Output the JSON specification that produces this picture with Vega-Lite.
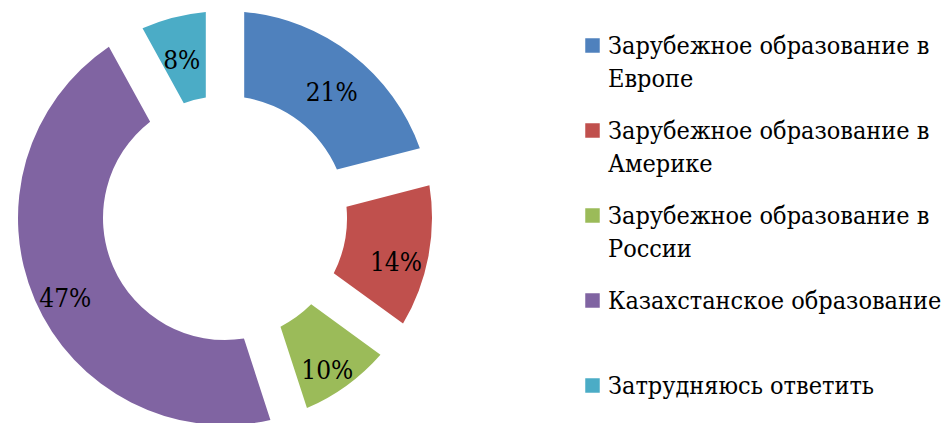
{
  "$schema": "https://vega.github.io/schema/vega-lite/v6.json",
  "autosize": {"type": "none"},
  "width": 450,
  "height": 410,
  "padding": {"left": 0, "top": 13, "right": 501, "bottom": 0},
  "background": "white",
  "config": {
    "view": {"stroke": null},
    "style": {"guide-label": {"lineHeight": 33}}
  },
  "data": {
    "values": [
      {"category": "Зарубежное образование в Европе", "share": 0.21, "rank": 1},
      {"category": "Зарубежное образование в Америке", "share": 0.14, "rank": 2},
      {"category": "Зарубежное образование в России", "share": 0.10, "rank": 3},
      {"category": "Казахстанское образование", "share": 0.47, "rank": 4},
      {"category": "Затрудняюсь ответить", "share": 0.08, "rank": 5}
    ]
  },
  "encoding": {
    "theta": {"field": "share", "type": "quantitative", "stack": true},
    "order": {"field": "rank", "type": "quantitative"}
  },
  "layer": [
    {
      "mark": {"type": "arc", "outerRadius": 207, "innerRadius": 122, "padAngle": 0.16},
      "encoding": {
        "color": {
          "field": "category",
          "type": "nominal",
          "sort": ["Зарубежное образование в Европе", "Зарубежное образование в Америке", "Зарубежное образование в России", "Казахстанское образование", "Затрудняюсь ответить"],
          "scale": {
            "domain": ["Зарубежное образование в Европе", "Зарубежное образование в Америке", "Зарубежное образование в России", "Казахстанское образование", "Затрудняюсь ответить"],
            "range": ["#4F81BD", "#C0504D", "#9BBB59", "#8064A2", "#4BACC6"]
          },
          "legend": {
            "title": null,
            "orient": "none",
            "legendX": 580,
            "legendY": 20,
            "padding": 0,
            "direction": "vertical",
            "columns": 1,
            "symbolType": "square",
            "symbolSize": 210,
            "symbolStrokeWidth": 0,
            "labelFont": "DejaVu Serif Condensed, DejaVu Serif",
            "labelFontSize": 25,
            "labelColor": "#000000",
            "labelOffset": 3,
            "labelLimit": 0,
            "labelBaseline": "middle",
            "rowPadding": 26,
            "gridAlign": "all",
            "labelExpr": "split(replace(datum.label, 'в ', 'в|'), '|')"
          }
        }
      }
    },
    {
      "mark": {"type": "text", "radius": 174, "dy": 12, "font": "DejaVu Serif Condensed, DejaVu Serif", "fontSize": 26, "color": "#000000"},
      "encoding": {
        "text": {"field": "share", "type": "quantitative", "format": ".0%"}
      }
    }
  ]
}
